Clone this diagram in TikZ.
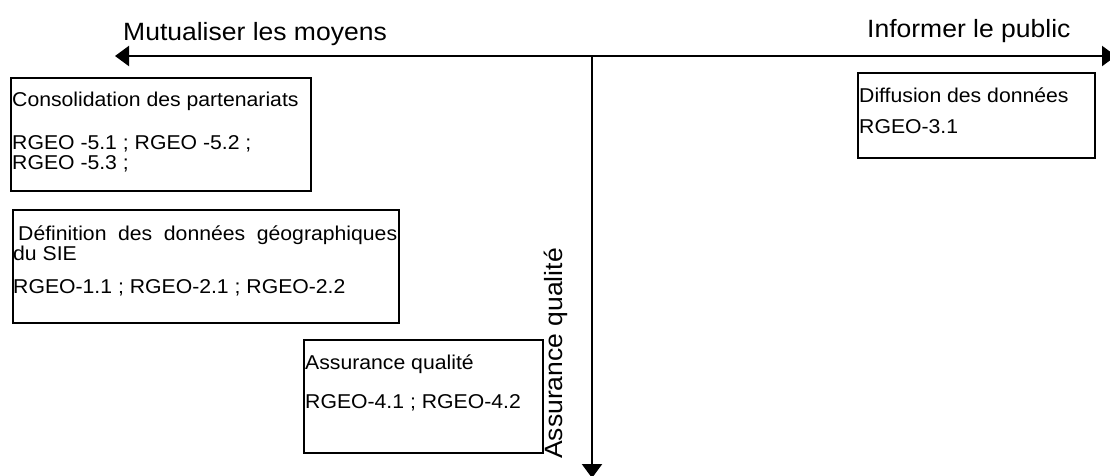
\documentclass[tikz,border=0pt]{standalone}
\usepackage{fontspec}
\setmainfont{Liberation Sans}[FakeStretch=1.06]
\usetikzlibrary{arrows.meta}

\begin{document}
\begin{tikzpicture}[x=1pt,y=-1pt,
  axis/.style={line width=2.2pt,-{Triangle[length=14pt,width=20pt]}},
  frame/.style={draw,line width=1.6pt,rectangle,inner sep=0pt,anchor=north west},
  boxtext/.style={anchor=base west,inner sep=0pt,font=\fontsize{20}{24}\selectfont},
  axislabel/.style={anchor=base west,inner sep=0pt,font=\fontsize{25}{30}\selectfont}]

  \useasboundingbox (0,0) rectangle (1110,475);

  % axes
  \coordinate (O) at (592,56);
  \coordinate (L) at (115,56);
  \coordinate (R) at (1116,56);
  \coordinate (B) at (592,478);
  \draw[axis] (O) -- (L);
  \draw[axis] (O) -- (R);
  \draw[axis] (O) -- (B);

  % axis labels
  \node[axislabel] (lmut) at (123,40) {Mutualiser les moyens};
  \node[axislabel] (linf) at (867,37) {Informer le public};
  \node[axislabel,rotate=90] (lqual) at (562,459) {Assurance qualité};

  % partnership box
  \node[frame,minimum width=300pt,minimum height=113pt] (b1) at (10,77) {};
  \node[boxtext] (b1a) at (12,106) {Consolidation des partenariats};
  \node[boxtext] (b1b) at (12,149) {RGEO -5.1 ; RGEO -5.2 ;};
  \node[boxtext] (b1c) at (12,169) {RGEO -5.3 ;};

  % geographic data box
  \node[frame,minimum width=386pt,minimum height=113pt] (b2) at (12,209) {};
  \node[boxtext] (b2a) at (18,240)
    {\makebox[379pt][s]{Définition\hfill des\hfill données\hfill géographiques}};
  \node[boxtext] (b2b) at (13,260) {du SIE};
  \node[boxtext] (b2c) at (13,293) {RGEO-1.1 ; RGEO-2.1 ; RGEO-2.2};

  % quality box
  \node[frame,minimum width=239pt,minimum height=113pt] (b3) at (303,339) {};
  \node[boxtext] (b3a) at (305,369) {Assurance qualité};
  \node[boxtext] (b3b) at (305,408) {RGEO-4.1 ; RGEO-4.2};

  % diffusion box
  \node[frame,minimum width=237pt,minimum height=85pt] (b4) at (857,72) {};
  \node[boxtext] (b4a) at (859,102) {Diffusion des données};
  \node[boxtext] (b4b) at (859,133) {RGEO-3.1};
\end{tikzpicture}
\end{document}
